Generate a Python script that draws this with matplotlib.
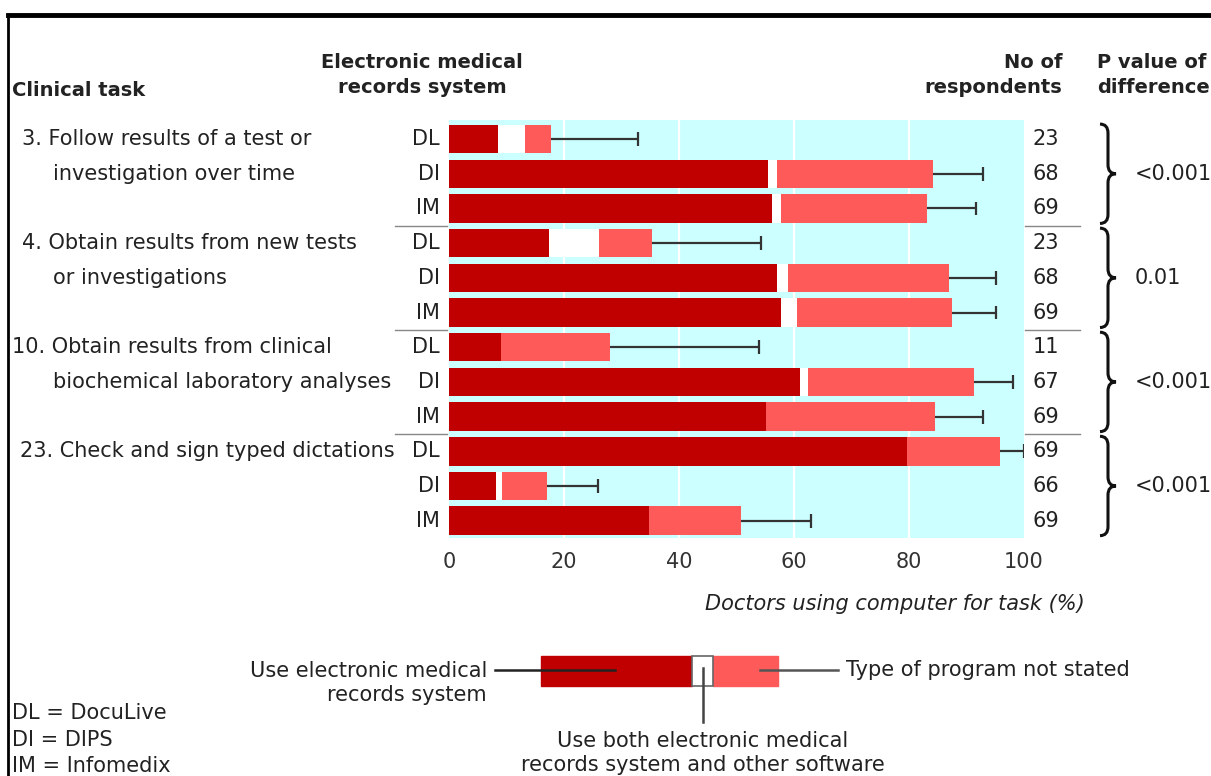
import numpy as np
import matplotlib
matplotlib.use("Agg")
import matplotlib.pyplot as plt
from matplotlib import font_manager
from matplotlib.path import Path
from matplotlib.patches import PathPatch, Rectangle

# Data (percent of doctors)
tasks = ["3. Follow results of a test or\n      investigation over time",
         "4. Obtain results from new tests\n      or investigations",
         "10. Obtain results from clinical\n      biochemical laboratory analyses",
         "23. Check and sign typed dictations"]
systems = ["DL", "DI", "IM"] * 4
emr = [8.6, 55.5, 56.2, 17.4, 57.1, 57.8, 9.0, 61.1, 55.1, 79.7, 8.1, 34.8]
both = [4.7, 1.6, 1.6, 8.7, 1.8, 2.8, 0.0, 1.3, 0.0, 0.0, 1.1, 0.0]
not_stated = [4.5, 27.0, 25.4, 9.2, 28.1, 26.8, 19.0, 28.9, 29.4, 16.2, 7.9, 16.0]
ci_upper = [32.9, 92.8, 91.7, 54.2, 95.1, 95.1, 53.9, 98.0, 92.8, 100.0, 25.9, 62.9]
respondents = [23, 68, 69, 23, 68, 69, 11, 67, 69, 69, 66, 69]
p_values = ["<0.001", "0.01", "<0.001", "<0.001"]

DARK = "#C00000"
LIGHT = "#FF5A5A"
CYAN = "#CCFFFF"

names = {f.name for f in font_manager.fontManager.ttflist}
FONT = "Liberation Sans Narrow" if "Liberation Sans Narrow" in names else "DejaVu Sans"
plt.rcParams["font.family"] = [FONT, "DejaVu Sans"]

W, H = 1211, 776
fig = plt.figure(figsize=(W / 100, H / 100), dpi=100)

# main bar axes, placed in pixel positions
left, right, top, bottom = 449, 1024, 120, 538
ax = fig.add_axes([left / W, 1 - bottom / H, (right - left) / W, (bottom - top) / H])
ax.set_facecolor(CYAN)
y = np.arange(len(emr))
emr = np.array(emr)
both = np.array(both)
not_stated = np.array(not_stated)
for g in [20, 40, 60, 80]:
    ax.axvline(g, color="white", lw=1.6, zorder=1)
ax.barh(y, emr, height=0.82, color=DARK, zorder=2)
ax.barh(y, both, left=emr, height=0.82, color="white", zorder=2)
ax.barh(y, not_stated, left=emr + both, height=0.82, color=LIGHT, zorder=2)
ends = emr + both + not_stated
ax.hlines(y, ends, ci_upper, color="#333333", lw=1.6, zorder=3)
ax.vlines(ci_upper, y - 0.2, y + 0.2, color="#333333", lw=1.6, zorder=3)
ax.set_xlim(0, 100)
ax.set_ylim(11.5, -0.55)
ax.set_yticks([])
ax.set_xticks([0, 20, 40, 60, 80, 100])
ax.tick_params(axis="x", length=0, pad=10, labelsize=15, labelcolor="#333333")
for s in ax.spines.values():
    s.set_visible(False)

# overlay axes in pixel coordinates for the annotations
ov = fig.add_axes([0, 0, 1, 1], zorder=5)
ov.set_xlim(0, W)
ov.set_ylim(H, 0)
ov.axis("off")
ov.patch.set_alpha(0)

# frame (clipped like the source)
ov.plot([8, W], [15, 15], color="black", lw=3.5)
ov.plot([8, 8], [15, H], color="black", lw=2)

txt = dict(fontsize=15, color="#222222", va="center")
hdr = dict(fontsize=14, color="#222222", fontweight="bold", linespacing=1.35)
ov.text(12, 90, "Clinical task", ha="left", va="center", **hdr)
ov.text(422, 75, "Electronic medical\nrecords system", ha="center", va="center", **hdr)
ov.text(1062, 75, "No of\nrespondents", ha="right", va="center", **hdr, multialignment="right")
ov.text(1097, 75, "P value of\ndifference", ha="left", va="center", **hdr)

# rows: pixel centres come from the bar axes
row_px = [(bottom - top) * (yy + 0.55) / 12.05 + top for yy in y]
for i, (s, n) in enumerate(zip(systems, respondents)):
    ov.text(440, row_px[i], s, ha="right", **txt)
    ov.text(1033, row_px[i], str(n), ha="left", **txt)

task_x = [22, 22, 12, 20]
for k, t in enumerate(tasks):
    yc = row_px[3 * k]
    lines = t.split("\n")
    ov.text(task_x[k], yc, lines[0], ha="left", **txt)
    if len(lines) > 1:
        ov.text(53, yc + 34.7, lines[1].strip(), ha="left", **txt)

# group separators
for k in range(1, 4):
    ys = (row_px[3 * k - 1] + row_px[3 * k]) / 2
    ov.plot([395, 447], [ys, ys], color="#888888", lw=1)
    ov.plot([1025, 1080], [ys, ys], color="#888888", lw=1)


def brace(x, y0, y1, w=16, r=9):
    yc = (y0 + y1) / 2
    xm = x + w / 2
    verts = [(x, y0), (xm, y0), (xm, y0 + r),
             (xm, yc - r), (xm, yc), (x + w, yc),
             (xm, yc), (xm, yc + r),
             (xm, y1 - r), (xm, y1), (x, y1)]
    codes = [Path.MOVETO, Path.CURVE3, Path.CURVE3,
             Path.LINETO, Path.CURVE3, Path.CURVE3,
             Path.CURVE3, Path.CURVE3,
             Path.LINETO, Path.CURVE3, Path.CURVE3]
    ov.add_patch(PathPatch(Path(verts, codes), fill=False, lw=2.2, color="#111111"))


for k, p in enumerate(p_values):
    y0 = row_px[3 * k] - 15
    y1 = row_px[3 * k + 2] + 15
    brace(1100, y0, y1)
    ov.text(1135, (y0 + y1) / 2, p, ha="left", **txt)

ov.text(1085, 604, "Doctors using computer for task (%)", ha="right", va="center",
        fontsize=15, style="italic", color="#222222")

# key
ov.add_patch(Rectangle((541, 656), 151, 30, color=DARK))
ov.add_patch(Rectangle((713, 656), 65, 30, color=LIGHT))
ov.add_patch(Rectangle((692, 656), 21, 30, facecolor="white", edgecolor="#666666", lw=1.2))
ov.plot([495, 615], [670, 670], color="#222222", lw=1.8)
ov.plot([760, 838], [670, 670], color="#555555", lw=1.8)
ov.plot([703, 703], [668, 722], color="#444444", lw=1.8)
ov.text(487, 683, "Use electronic medical\nrecords system", ha="right", va="center",
        fontsize=15, color="#222222", multialignment="right", linespacing=1.3)
ov.text(846, 670, "Type of program not stated", ha="left", **txt)
ov.text(703, 753, "Use both electronic medical\nrecords system and other software",
        ha="center", va="center", fontsize=15, color="#222222", linespacing=1.3)

ov.text(12, 713, "DL = DocuLive", ha="left", **txt)
ov.text(12, 740, "DI = DIPS", ha="left", **txt)
ov.text(12, 766, "IM = Infomedix", ha="left", **txt)

fig.savefig("out.png", dpi=100)
